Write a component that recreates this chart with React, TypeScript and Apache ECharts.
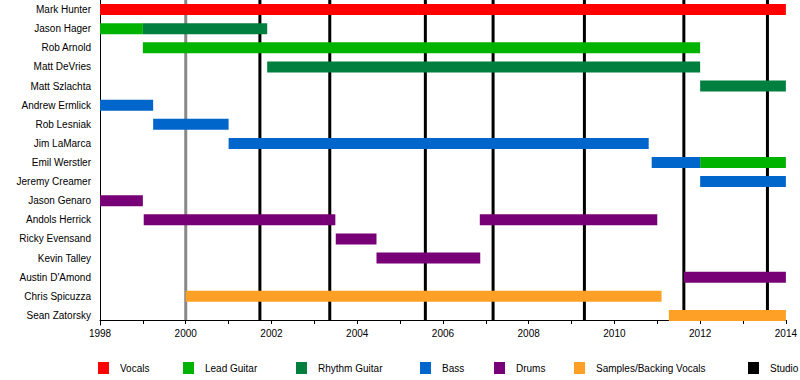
import React, { useEffect, useRef } from "react";
import * as echarts from "echarts";

const members = [
  "Mark Hunter",
  "Jason Hager",
  "Rob Arnold",
  "Matt DeVries",
  "Matt Szlachta",
  "Andrew Ermlick",
  "Rob Lesniak",
  "Jim LaMarca",
  "Emil Werstler",
  "Jeremy Creamer",
  "Jason Genaro",
  "Andols Herrick",
  "Ricky Evensand",
  "Kevin Talley",
  "Austin D'Amond",
  "Chris Spicuzza",
  "Sean Zatorsky",
];

const roleNames = ["Vocals", "Lead Guitar", "Rhythm Guitar", "Bass", "Drums", "Samples/Backing Vocals"];
const roleColors = ["#ff0000", "#00b300", "#007f3f", "#0066cc", "#770077", "#ffa026"];

// [member, start, end]
const vocals: [string, number, number][] = [["Mark Hunter", 1998, 2014]];
const leadGuitar: [string, number, number][] = [
  ["Jason Hager", 1998, 1999.0],
  ["Rob Arnold", 1999.0, 2012.0],
  ["Emil Werstler", 2012.0, 2014],
];
const rhythmGuitar: [string, number, number][] = [
  ["Jason Hager", 1999.0, 2001.9],
  ["Matt DeVries", 2001.9, 2012.0],
  ["Matt Szlachta", 2012.0, 2014],
];
const bass: [string, number, number][] = [
  ["Andrew Ermlick", 1998, 1999.24],
  ["Rob Lesniak", 1999.24, 2001.0],
  ["Jim LaMarca", 2001.0, 2010.8],
  ["Emil Werstler", 2010.87, 2012.0],
  ["Jeremy Creamer", 2012.0, 2014],
];
const drums: [string, number, number][] = [
  ["Jason Genaro", 1998, 1999.0],
  ["Andols Herrick", 1999.02, 2003.49],
  ["Ricky Evensand", 2003.5, 2004.45],
  ["Kevin Talley", 2004.45, 2006.87],
  ["Andols Herrick", 2006.86, 2011.0],
  ["Austin D'Amond", 2011.62, 2014],
];
const samples: [string, number, number][] = [
  ["Chris Spicuzza", 2000.0, 2011.1],
  ["Sean Zatorsky", 2011.27, 2014],
];
const rolePeriods = [vocals, leadGuitar, rhythmGuitar, bass, drums, samples];

const studioYears = [2001.73, 2003.36, 2005.59, 2007.17, 2009.3, 2011.62, 2013.57];
const otherYears = [2000.0];

const legendNames = [...roleNames, "Studio"];
const legendLeft = [98, 183, 296, 420, 494, 574, 748];

const FONT = "'Liberation Sans', Arial, Helvetica, sans-serif";

export default function App() {
  const ref = useRef<HTMLDivElement>(null);
  useEffect(() => {
    document.body.style.margin = "0";
    if (!ref.current) return;
    const chart = echarts.init(ref.current, undefined, { renderer: "svg" });

    const barRender = (params: any, api: any) => {
      const idx = api.value(0);
      const s = api.coord([api.value(1), idx]);
      const e = api.coord([api.value(2), idx]);
      const h = 11;
      return {
        type: "rect",
        shape: { x: s[0], y: s[1] - h / 2, width: e[0] - s[0], height: h },
        style: { fill: api.visual("color") },
      };
    };

    const lineRender = (color: string) => (params: any, api: any) => {
      const p = api.coord([api.value(0), 0]);
      const cs = params.coordSys;
      return {
        type: "line",
        shape: { x1: p[0], y1: Math.max(cs.y, 0), x2: p[0], y2: cs.y + cs.height - 5 },
        style: { stroke: color, lineWidth: 3 },
      };
    };

    const series: any[] = [
      {
        name: "__other",
        type: "custom",
        renderItem: lineRender("#888888"),
        data: otherYears.map((y) => [y, 0]),
        encode: { x: 0, y: 1 },
        itemStyle: { color: "#888888" },
        z: 1,
        silent: true,
      },
      {
        name: "Studio",
        type: "custom",
        renderItem: lineRender("#000000"),
        data: studioYears.map((y) => [y, 0]),
        encode: { x: 0, y: 1 },
        itemStyle: { color: "#000000" },
        z: 1,
        silent: true,
      },
    ];
    rolePeriods.forEach((periods, i) => {
      series.push({
        name: roleNames[i],
        type: "custom",
        renderItem: barRender,
        data: periods.map(([m, s, e]) => [members.indexOf(m), s, e]),
        encode: { x: [1, 2], y: 0 },
        itemStyle: { color: roleColors[i] },
        z: 2,
        silent: true,
      });
    });

    chart.setOption({
      animation: false,
      textStyle: { fontFamily: FONT },
      grid: { left: 100, right: 10, top: -4, bottom: 55, containLabel: false },
      xAxis: {
        type: "value",
        min: 1998,
        max: 2014,
        interval: 1,
        offset: -5,
        axisLine: { show: true, lineStyle: { color: "#000", width: 1 } },
        axisTick: { show: true, length: 4, lineStyle: { color: "#000" } },
        splitLine: { show: false },
        axisLabel: {
          fontSize: 10,
          color: "#000",
          fontFamily: FONT,
          margin: 8,
          formatter: (v: number) => (v % 2 === 0 ? String(v) : ""),
        },
      },
      yAxis: {
        type: "category",
        data: members,
        inverse: true,
        axisLine: { show: true, lineStyle: { color: "#000", width: 1 } },
        axisTick: { show: false },
        splitLine: { show: false },
        axisLabel: { fontSize: 10, color: "#000", fontFamily: FONT, margin: 9 },
      },
      legend: legendNames.map((n, i) => ({
        data: [n],
        left: legendLeft[i] - 5,
        top: 357,
        icon: "rect",
        itemWidth: 11,
        itemHeight: 12,
        selectedMode: false,
        textStyle: { fontSize: 10, color: "#000", fontFamily: FONT, padding: [0, 0, 0, 6] },
      })),
      series,
    });
    return () => chart.dispose();
  }, []);
  return <div ref={ref} style={{ width: 800, height: 380 }} />;
}
